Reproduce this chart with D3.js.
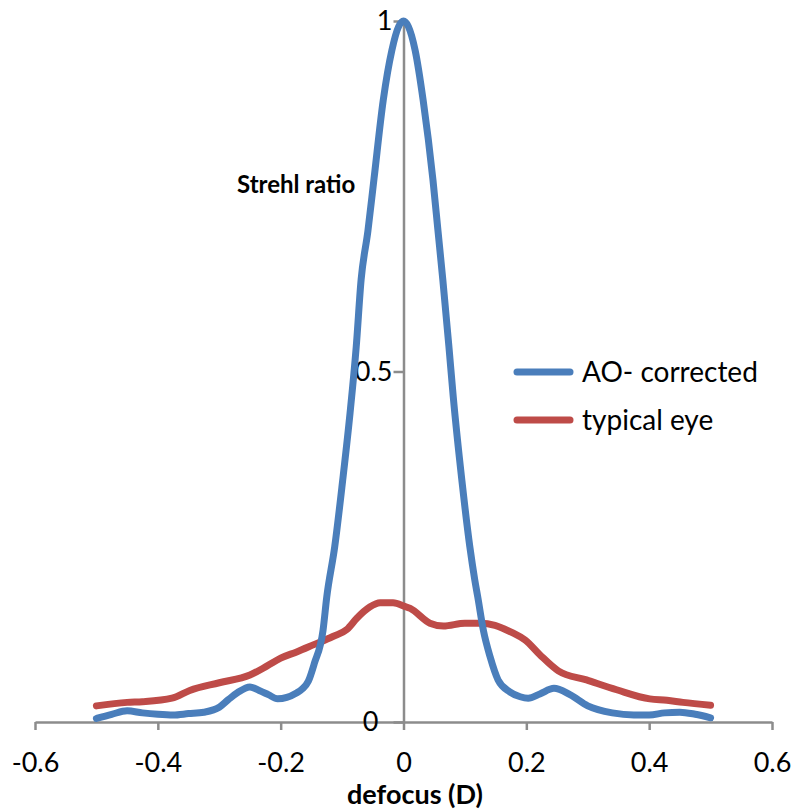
<!DOCTYPE html>
<html>
<head>
<meta charset="utf-8">
<script src="https://cdn.jsdelivr.net/npm/d3@7"></script>
<style>
  html, body { margin: 0; padding: 0; background: #fff; }
  svg { display: block; font-family: Lato, "Open Sans", sans-serif; }
</style>
</head>
<body>
<svg id="chart" width="797" height="810"></svg>
<script>
// ---- data ----
const aoDefocus = [-0.50,-0.475,-0.45,-0.425,-0.40,-0.375,-0.35,-0.325,-0.30,-0.285,-0.27,-0.25,-0.235,-0.22,-0.205,-0.19,-0.175,-0.165,-0.155,-0.145,-0.131,-0.125,-0.112,-0.099,-0.087,-0.077,-0.069,-0.058,-0.048,-0.033,-0.019,-0.008,0,0.008,0.019,0.032,0.048,0.056,0.064,0.074,0.081,0.095,0.108,0.116,0.121,0.13,0.141,0.154,0.173,0.19,0.203,0.222,0.245,0.271,0.30,0.34,0.375,0.40,0.425,0.45,0.475,0.50];
const aoStrehl  = [0.005,0.011,0.016,0.013,0.011,0.010,0.012,0.014,0.021,0.032,0.042,0.050,0.045,0.039,0.033,0.035,0.041,0.047,0.058,0.084,0.131,0.178,0.250,0.345,0.441,0.535,0.631,0.700,0.775,0.887,0.958,0.992,1.0,0.992,0.958,0.887,0.773,0.702,0.631,0.535,0.464,0.345,0.250,0.203,0.178,0.131,0.093,0.060,0.043,0.036,0.034,0.040,0.048,0.039,0.023,0.013,0.010,0.010,0.013,0.014,0.011,0.006];

const eyeDefocus = [-0.50,-0.45,-0.425,-0.377,-0.348,-0.30,-0.25,-0.222,-0.20,-0.174,-0.147,-0.115,-0.092,-0.076,-0.055,-0.038,-0.017,0.002,0.011,0.043,0.065,0.10,0.125,0.149,0.178,0.198,0.222,0.252,0.298,0.347,0.401,0.429,0.455,0.50];
const eyeStrehl  = [0.023,0.028,0.029,0.034,0.045,0.056,0.067,0.080,0.091,0.100,0.110,0.122,0.132,0.148,0.164,0.170,0.170,0.165,0.162,0.141,0.137,0.141,0.141,0.138,0.127,0.117,0.096,0.073,0.060,0.046,0.033,0.031,0.028,0.024];

const seriesNames = ["AO- corrected", "typical eye"];
const seriesColors = ["#4a7ebb", "#be4b48"];
const xTicks = [-0.6,-0.4,-0.2,0,0.2,0.4,0.6];
const yTicks = [0,0.5,1];
const xTitle = "defocus (D)";
const yTitle = "Strehl ratio";

// ---- chart ----
const svg = d3.select("#chart");
const x = d3.scaleLinear().domain([-0.6, 0.6]).range([35, 772]);
const y = d3.scaleLinear().domain([0, 1]).range([722, 21]);
const axisColor = "#8c8c8c";
const font = "Lato, 'Open Sans', sans-serif";

const gx = svg.append("g").attr("transform", `translate(0,${y(0)})`)
  .call(d3.axisBottom(x).tickValues(xTicks).tickSize(8).tickSizeOuter(0).tickPadding(23)
    .tickFormat(d => d === 0 ? "0" : d3.format(".1f")(d).replace("−", "-")));
gx.select(".domain").attr("stroke", axisColor).attr("stroke-width", 2.5);
gx.selectAll(".tick line").attr("stroke", axisColor).attr("stroke-width", 2.5);
gx.selectAll(".tick text").attr("fill", "#000").style("font-size", "27px")
  .style("font-family", font);

const gy = svg.append("g").attr("transform", `translate(${x(0)},0)`)
  .call(d3.axisLeft(y).tickValues(yTicks).tickSize(10).tickSizeOuter(0).tickPadding(1)
    .tickFormat(d => d === 0 ? "0" : (d === 1 ? "1" : d3.format(".1f")(d))));
gy.select(".domain").attr("stroke", axisColor).attr("stroke-width", 2.5);
gy.selectAll(".tick line").attr("stroke", axisColor).attr("stroke-width", 2.5);
gy.selectAll(".tick text").attr("fill", "#000").style("font-size", "27px")
  .style("font-family", font)
  .attr("dx", d => d === 0 ? -14 : 0);

// axis titles
svg.append("text").attr("x", 415).attr("y", 804).attr("text-anchor", "middle")
  .style("font-size", "27px").style("font-weight", "bold").style("font-family", font).text(xTitle);
svg.append("text").attr("x", 237).attr("y", 193).attr("text-anchor", "start")
  .style("font-size", "24px").style("font-weight", "bold").style("font-family", font).text(yTitle);

// lines
const line = d3.line().x(d => x(d[0])).y(d => y(d[1])).curve(d3.curveMonotoneX);
const series = [
  d3.zip(aoDefocus, aoStrehl),
  d3.zip(eyeDefocus, eyeStrehl)
];
svg.append("path").datum(series[1]).attr("d", line).attr("fill", "none")
  .attr("stroke", seriesColors[1]).attr("stroke-width", 7)
  .attr("stroke-linejoin", "round").attr("stroke-linecap", "round");
svg.append("path").datum(series[0]).attr("d", line).attr("fill", "none")
  .attr("stroke", seriesColors[0]).attr("stroke-width", 7)
  .attr("stroke-linejoin", "round").attr("stroke-linecap", "round");

// legend
const legend = svg.append("g");
seriesNames.forEach((name, i) => {
  const cy = 372 + i * 48;
  legend.append("line").attr("x1", 517).attr("x2", 570).attr("y1", cy).attr("y2", cy)
    .attr("stroke", seriesColors[i]).attr("stroke-width", 7).attr("stroke-linecap", "round");
  legend.append("text").attr("x", 582).attr("y", cy + 10)
    .style("font-size", "28px").style("font-family", font).attr("fill", "#000").text(name);
});
</script>
</body>
</html>
